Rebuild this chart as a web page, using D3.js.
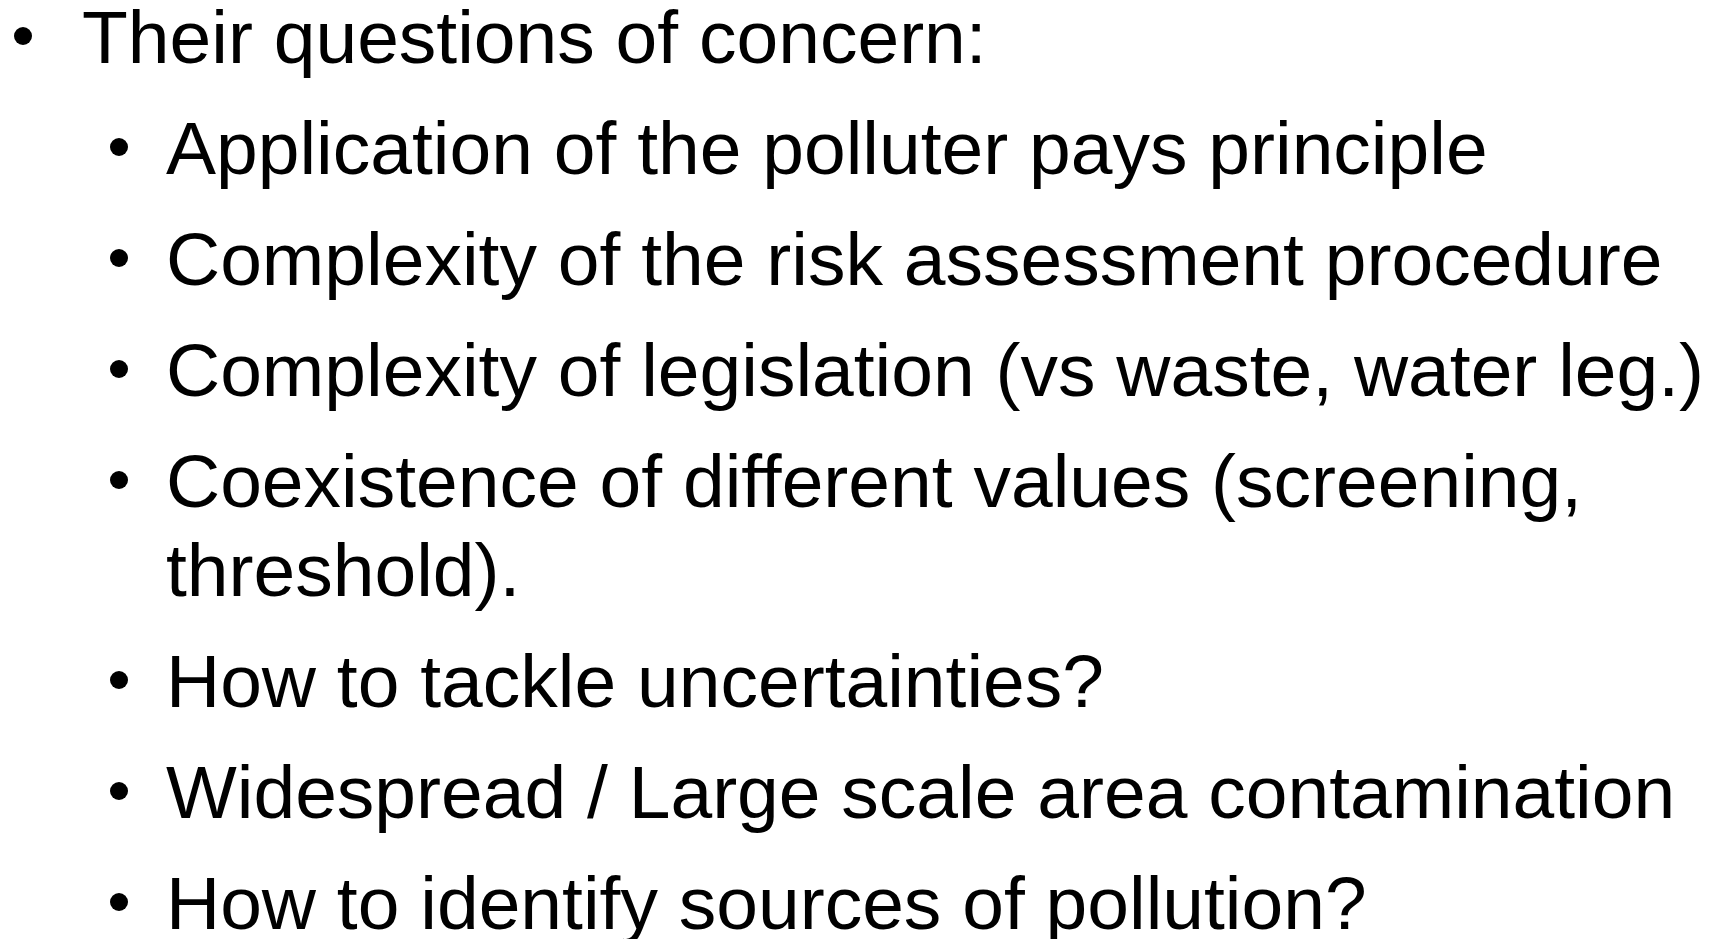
<!DOCTYPE html>
<html>
<head>
<meta charset="utf-8">
<script src="https://cdn.jsdelivr.net/npm/d3@7"></script>
<style>
  html, body { margin: 0; padding: 0; background: #fff; overflow: hidden; }
</style>
</head>
<body>
<div id="slide"></div>
<script>
// slide content: one entry per printed line
const lines = [
  "Their questions of concern:",
  "Application of the polluter pays principle",
  "Complexity of the risk assessment procedure",
  "Complexity of legislation (vs waste, water leg.)",
  "Coexistence of different values (screening,",
  "threshold).",
  "How to tackle uncertainties?",
  "Widespread / Large scale area contamination",
  "How to identify sources of pollution?"
];
// outline level of each line
const levels = [1, 2, 2, 2, 2, 2, 2, 2, 2];
// false where the line just wraps the previous bullet
const hasBullet = [true, true, true, true, true, false, true, true, true];

const width = 1714, height = 939;
const fontSize = 75;
const paraStep = 111, wrapStep = 89;

// indent per level
const textX = d3.scaleOrdinal().domain([1, 2]).range([82, 166]);
const bulletX = d3.scaleOrdinal().domain([1, 2]).range([23, 119]);

// baselines: new paragraph moves down more than a wrapped line
let baselines = [];
let yy = 63;
lines.forEach(function(d, i) {
  if (i > 0) yy += hasBullet[i] ? paraStep : wrapStep;
  baselines.push(yy);
});

const svg = d3.select("#slide")
  .append("svg")
    .attr("width", width)
    .attr("height", height);

const rows = svg.append("g")
  .selectAll("g")
  .data(lines)
  .enter()
  .append("g");

// bullets
rows.filter(function(d, i) { return hasBullet[i]; })
  .append("circle")
    .attr("cx", function(d) { return bulletX(levels[lines.indexOf(d)]); })
    .attr("cy", function(d) { return baselines[lines.indexOf(d)] - 27; })
    .attr("r", 9)
    .style("fill", "#000");

rows.append("text")
  .text(function(d) { return d; })
  .attr("x", function(d, i) { return textX(levels[i]); })
  .attr("y", function(d, i) { return baselines[i]; })
  .attr("font-family", "'Liberation Sans', Arial, sans-serif")
  .attr("font-size", fontSize + "px")
  .attr("fill", "#000");
</script>
</body>
</html>
